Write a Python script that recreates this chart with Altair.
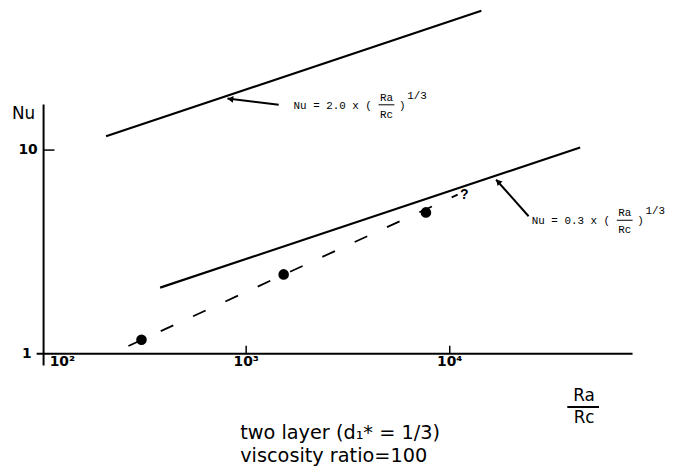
import altair as alt
import pandas as pd

# ---------------- data (Ra/Rc , Nu) ----------------
upper_ra = [205, 14300]          # Nu = 2.0 (Ra/Rc)^1/3
upper_nu = [11.7, 48.3]
lower_ra = [378, 43700]          # Nu = 0.3 (Ra/Rc)^1/3
lower_nu = [2.11, 10.3]
trend_ra = [264, 10940]          # dashed trend through measurements
trend_nu = [1.09, 6.04]
meas_ra = [306, 1528, 7640]      # measured points
meas_nu = [1.17, 2.45, 4.94]

x_tick_values = [1000, 10000]
x_label_values = [125, 1000, 10000]
x_labels = ["10²", "10³", "10⁴"]
y_tick_values = [10]
y_label_ra = [88.4, 94.6]
y_label_values = [1, 10]
y_labels = ["1", "10"]

upper_eq = ["Nu = 2.0 x (", "Ra", "Rc", ")", "1/3"]
lower_eq = ["Nu = 0.3 x (", "Ra", "Rc", ")", "1/3"]
caption = ["two layer (d\u2081* = 1/3)", "viscosity ratio=100"]

# ---------------- layout ----------------
DEC = 206.0                # pixels per decade (both axes)
W, H = 680, 464
X100 = 35                  # pixel of Ra/Rc = 100 inside the view
Y1 = 347                   # pixel of Nu = 1 inside the view


def shift(v, px):
    return v * 10 ** (px / DEC)


xs = alt.Scale(type="log", domain=[shift(100, -X100), shift(100, W - X100)], nice=False)
ys = alt.Scale(type="log", domain=[shift(1, -(H - Y1)), shift(1, Y1)], nice=False)


def X(f="x"):
    return alt.X(f"{f}:Q", scale=xs, axis=None)


def Y(f="y"):
    return alt.Y(f"{f}:Q", scale=ys, axis=None)


def X2(f="x2"):
    return alt.X2(f"{f}:Q")


def Y2(f="y2"):
    return alt.Y2(f"{f}:Q")


layers = []

# axis lines
axes_df = pd.DataFrame({
    "x": [shift(100, -6), shift(100, 1)],
    "x2": [shift(100, 597), shift(100, 1)],
    "y": [1, shift(1, -12)],
    "y2": [1, shift(1, 252)],
})
layers.append(alt.Chart(axes_df).mark_rule(color="black", strokeWidth=2)
              .encode(x=X(), x2=X2(), y=Y(), y2=Y2()))

# ticks
xt = pd.DataFrame({"x": x_tick_values, "y": [1] * len(x_tick_values),
                   "y2": [shift(1, 8)] * len(x_tick_values)})
layers.append(alt.Chart(xt).mark_rule(color="black", strokeWidth=1.5)
              .encode(x=X(), y=Y(), y2=Y2()))
yt = pd.DataFrame({"y": y_tick_values, "x": [shift(100, 1)] * len(y_tick_values),
                   "x2": [shift(100, 12)] * len(y_tick_values)})
layers.append(alt.Chart(yt).mark_rule(color="black", strokeWidth=1.5)
              .encode(x=X(), x2=X2(), y=Y()))

# tick labels
xl = pd.DataFrame({"x": x_label_values, "y": [shift(1, -9)] * 3, "t": x_labels})
layers.append(alt.Chart(xl).mark_text(font="DejaVu Sans", fontSize=14, fontWeight="bold",
                                      baseline="middle", align="center", color="black")
              .encode(x=X(), y=Y(), text="t:N"))
yl = pd.DataFrame({"x": y_label_ra, "y": y_label_values, "t": y_labels})
layers.append(alt.Chart(yl).mark_text(font="DejaVu Sans", fontSize=14, fontWeight="bold",
                                      baseline="middle", align="right", color="black")
              .encode(x=X(), y=Y(), text="t:N"))

# axis titles
nu_df = pd.DataFrame({"x": [70.7], "y": [15.1], "t": ["Nu"]})
layers.append(alt.Chart(nu_df).mark_text(font="DejaVu Sans", fontSize=17, align="left",
                                         baseline="middle", color="black")
              .encode(x=X(), y=Y(), text="t:N"))
rarc = pd.DataFrame({"x": [45700, 45700], "y": [0.620, 0.482], "t": ["Ra", "Rc"]})
layers.append(alt.Chart(rarc).mark_text(font="DejaVu Sans", fontSize=17, align="center",
                                        baseline="middle", color="black")
              .encode(x=X(), y=Y(), text="t:N"))
rbar = pd.DataFrame({"x": [37800], "x2": [54100], "y": [0.547]})
layers.append(alt.Chart(rbar).mark_rule(color="black", strokeWidth=1.8)
              .encode(x=X(), x2=X2(), y=Y()))

# caption
cap = pd.DataFrame({"x": [935, 935], "y": [0.405, 0.313], "t": caption})
layers.append(alt.Chart(cap).mark_text(font="DejaVu Sans", fontSize=19.5, align="left",
                                       baseline="middle", color="black")
              .encode(x=X(), y=Y(), text="t:N"))

# lines
for rx, ny in [(upper_ra, upper_nu), (lower_ra, lower_nu)]:
    d = pd.DataFrame({"x": rx, "y": ny})
    layers.append(alt.Chart(d).mark_line(color="black", strokeWidth=2.2)
                  .encode(x=X(), y=Y()))
td = pd.DataFrame({"x": trend_ra, "y": trend_nu})
layers.append(alt.Chart(td).mark_line(color="black", strokeWidth=1.8, strokeDash=[14, 22])
              .encode(x=X(), y=Y()))
md = pd.DataFrame({"x": meas_ra, "y": meas_nu})
layers.append(alt.Chart(md).mark_point(filled=True, color="black", size=115, opacity=1)
              .encode(x=X(), y=Y()))

# question mark
qd = pd.DataFrame({"x": [11800], "y": [5.98], "t": ["?"]})
layers.append(alt.Chart(qd).mark_text(font="Liberation Mono", fontSize=14, fontWeight="bold",
                                      align="center", baseline="middle", color="black")
              .encode(x=X(), y=Y(), text="t:N"))

# arrows
arr = pd.DataFrame({"x": [1445, 24400], "y": [16.7, 4.73],
                    "x2": [809, 16900], "y2": [17.9, 7.15]})
layers.append(alt.Chart(arr).mark_rule(color="black", strokeWidth=2)
              .encode(x=X(), x2=X2(), y=Y(), y2=Y2()))
heads = pd.DataFrame({"x": [shift(809, 3), shift(16900, 2)], "y": [shift(17.9, -0.4), shift(7.15, -2)],
                      "a": [7, 48]})
layers.append(alt.Chart(heads).mark_point(shape="triangle-left", filled=True, color="black",
                                          size=45, opacity=1)
              .encode(x=X(), y=Y(), angle=alt.Angle("a:Q", scale=None)))

# equations
for (ax, ay), eq in [((1710, 16.5), upper_eq), ((25300, 4.47), lower_eq)]:
    base = pd.DataFrame({"x": [ax], "y": [ay]})
    mono = dict(font="Liberation Mono", color="black", baseline="middle")
    layers.append(alt.Chart(base).mark_text(text=eq[0], align="left", fontSize=11, **mono)
                  .encode(x=X(), y=Y()))
    layers.append(alt.Chart(base).mark_text(text=eq[1], align="center", fontSize=11, dx=94, dy=-8, **mono)
                  .encode(x=X(), y=Y()))
    layers.append(alt.Chart(base).mark_text(text=eq[2], align="center", fontSize=11, dx=94, dy=9, **mono)
                  .encode(x=X(), y=Y()))
    layers.append(alt.Chart(base).mark_text(text=eq[3], align="center", fontSize=11, dx=110, **mono)
                  .encode(x=X(), y=Y()))
    layers.append(alt.Chart(base).mark_text(text=eq[4], align="left", fontSize=11, dx=115, dy=-10, **mono)
                  .encode(x=X(), y=Y()))
    bar = pd.DataFrame({"x": [shift(ax, 86)], "x2": [shift(ax, 102)], "y": [shift(ay, 1)]})
    layers.append(alt.Chart(bar).mark_rule(color="black", strokeWidth=1)
                  .encode(x=X(), x2=X2(), y=Y()))

chart = alt.layer(*layers).properties(
    width=W, height=H, padding=0,
    autosize=alt.AutoSizeParams(type="none"),
    background="white",
).configure_view(stroke=None)

chart.save("out.html", embed_options={"renderer": "svg", "actions": False})
